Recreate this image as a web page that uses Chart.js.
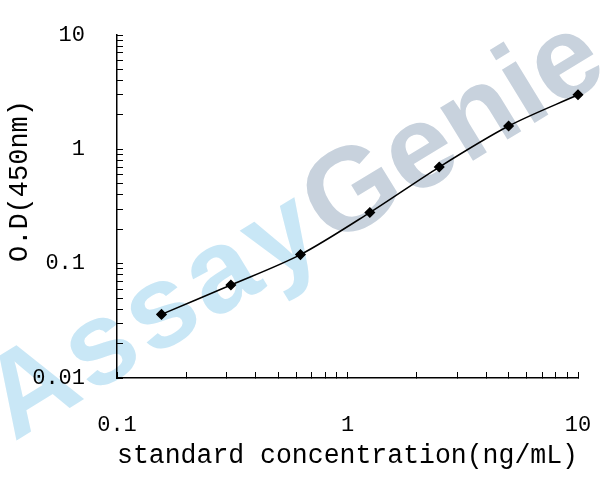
<!DOCTYPE html>
<html lang="en">
<head>
  <meta charset="UTF-8">
  <title>Standard Curve</title>
  <style>
    html, body {
      margin: 0;
      padding: 0;
      background-color: #fff;
    }
    #wrap {
      width: 608px;
      height: 481px;
    }
  </style>
</head>
<body>
  <div id="wrap"><canvas id="chart" width="608" height="481"></canvas></div>

  <script src="https://cdn.jsdelivr.net/npm/chart.js"></script>
  <script>
    // standard curve values
    const concentrations = [0.156, 0.312, 0.625, 1.25, 2.5, 5, 10];
    const odValues = [0.036, 0.065, 0.12, 0.28, 0.70, 1.6, 3.0];

    // tick positions on both log axes, labels only at the decades
    const xTickValues = [0.1, 0.2, 0.3, 0.4, 0.5, 0.6, 0.7, 0.8, 0.9, 1, 2, 3, 4, 5, 6, 7, 8, 9, 10];
    const xTickLabels = { 0.1: '0.1', 1: '1', 10: '10' };
    const yTickValues = [0.01, 0.02, 0.03, 0.04, 0.05, 0.06, 0.07, 0.08, 0.09,
                         0.1, 0.2, 0.3, 0.4, 0.5, 0.6, 0.7, 0.8, 0.9,
                         1, 2, 3, 4, 5, 6, 7, 8, 9, 10];
    const yTickLabels = { 0.01: '0.01', 0.1: '0.1', 1: '1', 10: '10' };

    const xTitle = 'standard concentration(ng/mL)';
    const yTitle = 'O.D(450nm)';

    const points = concentrations.map((c, i) => ({ x: c, y: odValues[i] }));

    const monoFont = '"Liberation Mono", "Courier New", monospace';

    // big tilted logo behind the plot
    const watermark = {
      id: 'watermark',
      beforeDraw(chart) {
        const ctx = chart.ctx;
        ctx.save();
        ctx.translate(14, 442);
        ctx.rotate(-31.5 * Math.PI / 180);
        ctx.font = 'bold 118px "Liberation Sans", Arial, sans-serif';
        ctx.textBaseline = 'alphabetic';
        const w = ctx.measureText('Assay').width + 25;
        ctx.letterSpacing = '5px';
        ctx.fillStyle = '#c9e7f6';
        ctx.fillText('Assay', 0, 0);
        ctx.letterSpacing = '0px';
        ctx.fillStyle = '#c8d2dd';
        ctx.fillText('Genie', w, 0);
        ctx.restore();
      }
    };

    // y title sits a bit above the middle of the axis in the original
    const yAxisTitle = {
      id: 'yAxisTitle',
      afterDraw(chart) {
        const ctx = chart.ctx;
        ctx.save();
        ctx.translate(20, 181);
        ctx.rotate(-Math.PI / 2);
        ctx.font = '27px ' + monoFont;
        ctx.fillStyle = '#000';
        ctx.textAlign = 'center';
        ctx.textBaseline = 'middle';
        ctx.fillText(yTitle, 0, 0);
        ctx.restore();
      }
    };

    new Chart(document.getElementById('chart'), {
      type: 'scatter',
      data: {
        datasets: [{
          data: points,
          showLine: true,
          clip: false,
          borderColor: '#000',
          borderWidth: 1.5,
          tension: 0.3,
          pointStyle: 'rectRot',
          pointRadius: 4.5,
          pointBackgroundColor: '#000',
          pointBorderColor: '#000'
        }]
      },
      options: {
        responsive: false,
        animation: false,
        layout: {
          padding: { top: 35, right: 30, left: 0, bottom: 0 }
        },
        plugins: {
          legend: { display: false },
          tooltip: { enabled: false }
        },
        scales: {
          x: {
            type: 'logarithmic',
            min: 0.1,
            max: 10,
            afterBuildTicks(scale) {
              scale.ticks = xTickValues.map(v => ({ value: v }));
            },
            afterFit(scale) {
              scale.height = 103;
              scale.paddingLeft = 0;
              scale.paddingRight = 0;
            },
            border: { display: true, color: '#000', width: 1.5 },
            grid: {
              drawOnChartArea: false,
              drawTicks: true,
              tickLength: -6,
              color: '#000',
              tickColor: '#000'
            },
            ticks: {
              autoSkip: false,
              maxRotation: 0,
              padding: 40,
              color: '#000',
              font: { family: monoFont, size: 22 },
              callback: (value) => xTickLabels[value] || ''
            },
            title: {
              display: true,
              text: xTitle,
              color: '#000',
              font: { family: monoFont, size: 27 },
              padding: { top: 0, bottom: 9 }
            }
          },
          y: {
            type: 'logarithmic',
            min: 0.01,
            max: 10,
            afterBuildTicks(scale) {
              scale.ticks = yTickValues.map(v => ({ value: v }));
            },
            afterFit(scale) {
              scale.width = 117;
              scale.paddingTop = 0;
              scale.paddingBottom = 0;
            },
            border: { display: true, color: '#000', width: 1.5 },
            grid: {
              drawOnChartArea: false,
              drawTicks: true,
              tickLength: -6,
              color: '#000',
              tickColor: '#000'
            },
            ticks: {
              autoSkip: false,
              padding: 38,
              color: '#000',
              font: { family: monoFont, size: 22 },
              callback: (value) => yTickLabels[value] || ''
            }
          }
        }
      },
      plugins: [watermark, yAxisTitle]
    });
  </script>
</body>
</html>
